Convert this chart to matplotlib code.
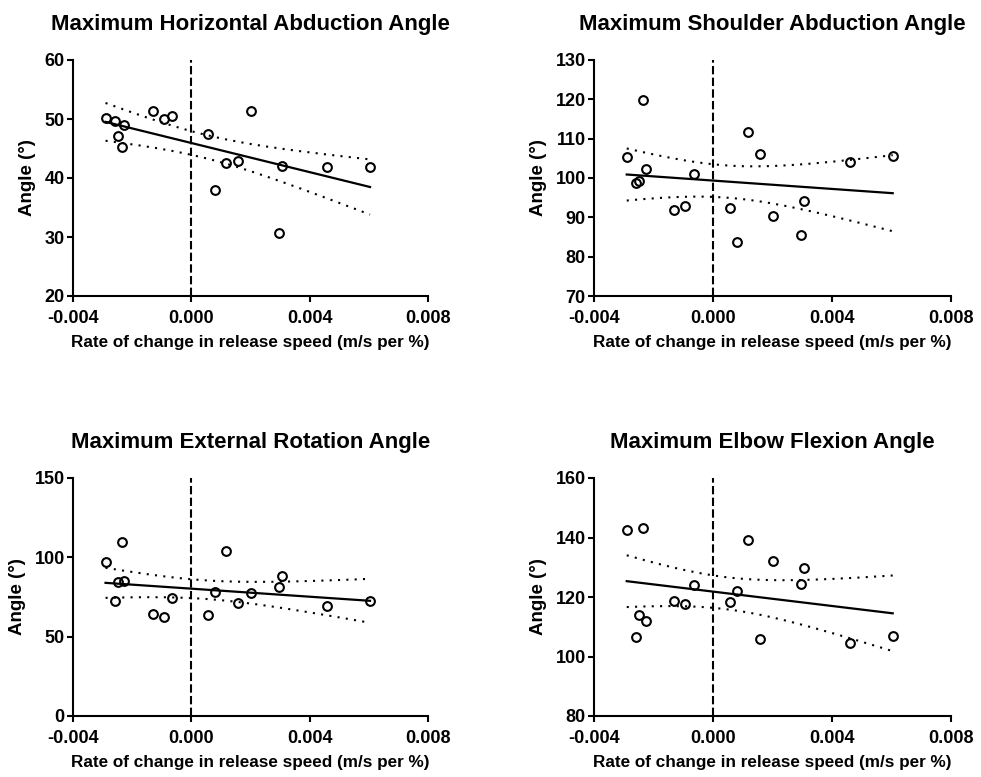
import numpy as np
import matplotlib
matplotlib.use("Agg")
import matplotlib.pyplot as plt

plt.rcParams["font.family"] = ["Liberation Sans", "DejaVu Sans"]
plt.rcParams["font.weight"] = "bold"

# Rate of change in release speed per subject (m/s per %)
rate = [-0.00290, -0.00258, -0.00249, -0.00236, -0.00226, -0.00130, -0.00094,
        -0.00065, 0.00057, 0.00081, 0.00118, 0.00157, 0.00201, 0.00297,
        0.00307, 0.00460, 0.00604]

# Joint angles (deg) for the same subjects
horizontal_abduction = [50.1, 49.7, 47.1, 45.3, 49.0, 51.4, 50.0, 50.5, 47.5,
                        38.0, 42.5, 42.9, 51.3, 30.6, 42.1, 41.9, 41.9]
shoulder_abduction = [105.4, 98.7, 99.3, 119.9, 102.3, 91.8, 93.0, 100.9, 92.4,
                      83.8, 111.8, 106.2, 90.4, 85.4, 94.1, 104.0, 105.6]
external_rotation = [96.8, 72.7, 84.5, 109.9, 84.9, 64.0, 62.3, 74.6, 63.6,
                     78.0, 103.7, 71.4, 77.3, 81.3, 88.3, 69.5, 72.2]
elbow_flexion = [142.5, 106.4, 113.9, 143.3, 112.0, 118.7, 117.6, 124.2, 118.4,
                 121.9, 139.2, 106.0, 132.2, 124.5, 129.6, 104.6, 107.0]

titles = ["Maximum Horizontal Abduction Angle", "Maximum Shoulder Abduction Angle",
          "Maximum External Rotation Angle", "Maximum Elbow Flexion Angle"]
series = [horizontal_abduction, shoulder_abduction, external_rotation, elbow_flexion]
y_ranges = [(20, 60, 10), (70, 130, 10), (0, 150, 50), (80, 160, 20)]
x_ticks = [-0.004, 0.000, 0.004, 0.008]
x_tick_labels = ["-0.004", "0.000", "0.004", "0.008"]

T_CRIT = 1.7531  # two-sided 90% t quantile, 15 degrees of freedom

W, H = 981, 777
# axes boxes in pixels: left, right, top, bottom
boxes = [(73, 428, 60, 296), (594, 951, 60, 296),
         (73, 428, 478, 716), (594, 951, 478, 716)]

fig = plt.figure(figsize=(W / 100, H / 100), dpi=100)

x = np.asarray(rate)
for (l, r, t, b), title, yv, (y0, y1, ys) in zip(boxes, titles, series, y_ranges):
    ax = fig.add_axes([l / W, 1 - b / H, (r - l) / W, (b - t) / H])
    y = np.asarray(yv)

    # linear fit with confidence band of the mean response
    slope, intercept = np.polyfit(x, y, 1)
    xs = np.linspace(x.min(), x.max(), 200)
    fit = slope * xs + intercept
    n = len(x)
    resid = y - (slope * x + intercept)
    s = np.sqrt(np.sum(resid ** 2) / (n - 2))
    sxx = np.sum((x - x.mean()) ** 2)
    half = T_CRIT * s * np.sqrt(1 / n + (xs - x.mean()) ** 2 / sxx)

    ax.axvline(0, color="black", lw=1.5, ls=(0, (4, 1.6)), zorder=1)
    ax.plot(xs, fit, color="black", lw=1.6, zorder=2)
    ax.plot(xs, fit + half, color="black", lw=1.5, ls=(0, (1, 3)), zorder=2)
    ax.plot(xs, fit - half, color="black", lw=1.5, ls=(0, (1, 3)), zorder=2)
    ax.plot(x, y, ls="none", marker="o", ms=6.3, mew=1.5,
            mfc="none", mec="black", zorder=3)

    ax.set_xlim(-0.004, 0.008)
    ax.set_ylim(y0, y1)
    ax.set_xticks(x_ticks)
    ax.set_xticklabels(x_tick_labels)
    ax.set_yticks(np.arange(y0, y1 + ys / 2, ys))
    for sp in ("top", "right"):
        ax.spines[sp].set_visible(False)
    for sp in ("left", "bottom"):
        ax.spines[sp].set_linewidth(1.5)
    ax.tick_params(axis="both", direction="out", length=4, width=1.5,
                   labelsize=13, colors="black")
    ax.tick_params(axis="y", pad=2)
    ax.tick_params(axis="x", pad=6)
    for lab in ax.get_xticklabels() + ax.get_yticklabels():
        lab.set_fontweight("bold")

    ax.set_title(title, fontsize=16, fontweight="bold", pad=21.5)
    ax.set_xlabel("Rate of change in release speed (m/s per %)",
                  fontsize=12.3, fontweight="bold", labelpad=6)
    ax.set_ylabel("Angle (°)", fontsize=13.5, fontweight="bold", labelpad=6)

fig.savefig("out.png", dpi=100)
